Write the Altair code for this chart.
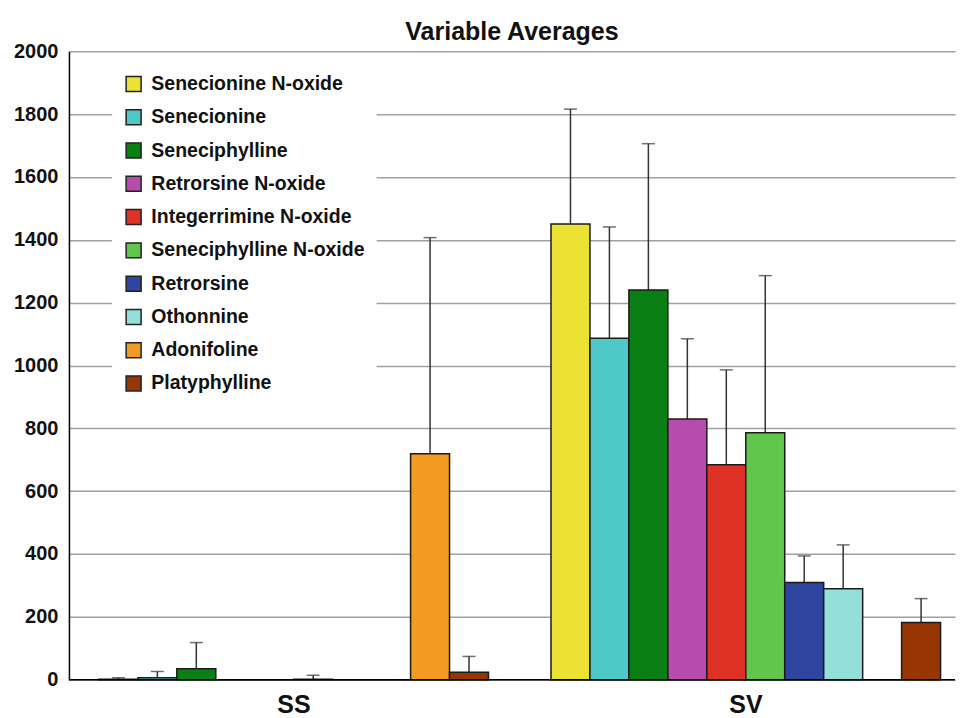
import altair as alt
import pandas as pd

compounds = [
    "Senecionine N-oxide", "Senecionine", "Seneciphylline", "Retrorsine N-oxide",
    "Integerrimine N-oxide", "Seneciphylline N-oxide", "Retrorsine", "Othonnine",
    "Adonifoline", "Platyphylline",
]
colors = [
    "#EBE234", "#4FC9C7", "#0A7F13", "#B84BAE", "#DE3226",
    "#62C64D", "#2F45A0", "#93E0DA", "#F39A23", "#983505",
]
groups = ["SS", "SV"]

ss_means = [1, 6, 35, 0, 0, 1, 0, 0, 719, 24]
ss_errors = [5, 20, 83, None, None, 13, None, None, 688, 50]
sv_means = [1450, 1087, 1240, 830, 684, 786, 309, 289, 0, 182]
sv_errors = [366, 354, 466, 255, 302, 500, 85, 140, None, 76]

rows = []
for g, means, errs in (("SS", ss_means, ss_errors), ("SV", sv_means, sv_errors)):
    for c, m, e in zip(compounds, means, errs):
        rows.append({"group": g, "compound": c, "mean": m,
                     "upper": (m + e) if e is not None else None})
df = pd.DataFrame(rows)

FONT = "Liberation Sans"

x = alt.X(
    "group:N", sort=groups,
    scale=alt.Scale(paddingInner=0.04, paddingOuter=0),
    axis=alt.Axis(title=None, labelAngle=0, domain=False, ticks=False,
                  labelFontSize=25, labelFontWeight="bold", labelPadding=13,
                  labelOffset=8, labelColor="#111"),
)
xo = alt.XOffset("compound:N", sort=compounds,
                 scale=alt.Scale(paddingOuter=0.57, paddingInner=0, align=0.675))

yscale = alt.Scale(domain=[0, 2000])

base = alt.Chart(df)

bars = base.mark_bar(stroke="#1a1a1a", strokeWidth=1.5).encode(
    x=x, xOffset=xo,
    y=alt.Y("mean:Q", scale=yscale,
            axis=alt.Axis(title=None, values=list(range(0, 2001, 200)), format="d",
                          grid=True, gridColor="#a0a0a0", gridWidth=1.5,
                          domainColor="black", domainWidth=1.5, ticks=False,
                          labelFontSize=20, labelFontWeight="bold",
                          labelPadding=11, labelColor="#111")),
    color=alt.Color("compound:N", sort=compounds,
                    scale=alt.Scale(domain=compounds, range=colors),
                    legend=alt.Legend(title=None, orient="none", legendX=43, legendY=11,
                                      fillColor="white", padding=12,
                                      symbolType="square", symbolSize=225,
                                      symbolStrokeColor="#222", symbolStrokeWidth=1.5,
                                      labelFontSize=19.5, labelFontWeight="bold",
                                      labelColor="#111", rowPadding=11.3,
                                      labelOffset=8, labelLimit=400)),
)

err = base.transform_filter("datum.upper != null").mark_rule(
    color="#333", strokeWidth=1.5).encode(
    x=x, xOffset=xo, y=alt.Y("mean:Q", scale=yscale), y2="upper:Q")

caps = base.transform_filter("datum.upper != null").mark_tick(
    color="#333", thickness=1.5, size=13).encode(
    x=x, xOffset=xo, y=alt.Y("upper:Q", scale=yscale))

baseline = alt.Chart(pd.DataFrame({"v": [0]})).mark_rule(
    color="black", strokeWidth=1.5).encode(y=alt.Y("v:Q", scale=yscale))

chart = alt.layer(err, caps, bars, baseline).properties(
    width=887, height=629,
    title=alt.Title("Variable Averages", fontSize=25, fontWeight="bold",
                    offset=-4, color="#111", font=FONT),
    padding={"left": 5, "right": 0, "top": 12, "bottom": 0},
).configure(font=FONT).configure_view(stroke=None)

chart.save("out.html", embed_options={"renderer": "svg", "actions": False})
